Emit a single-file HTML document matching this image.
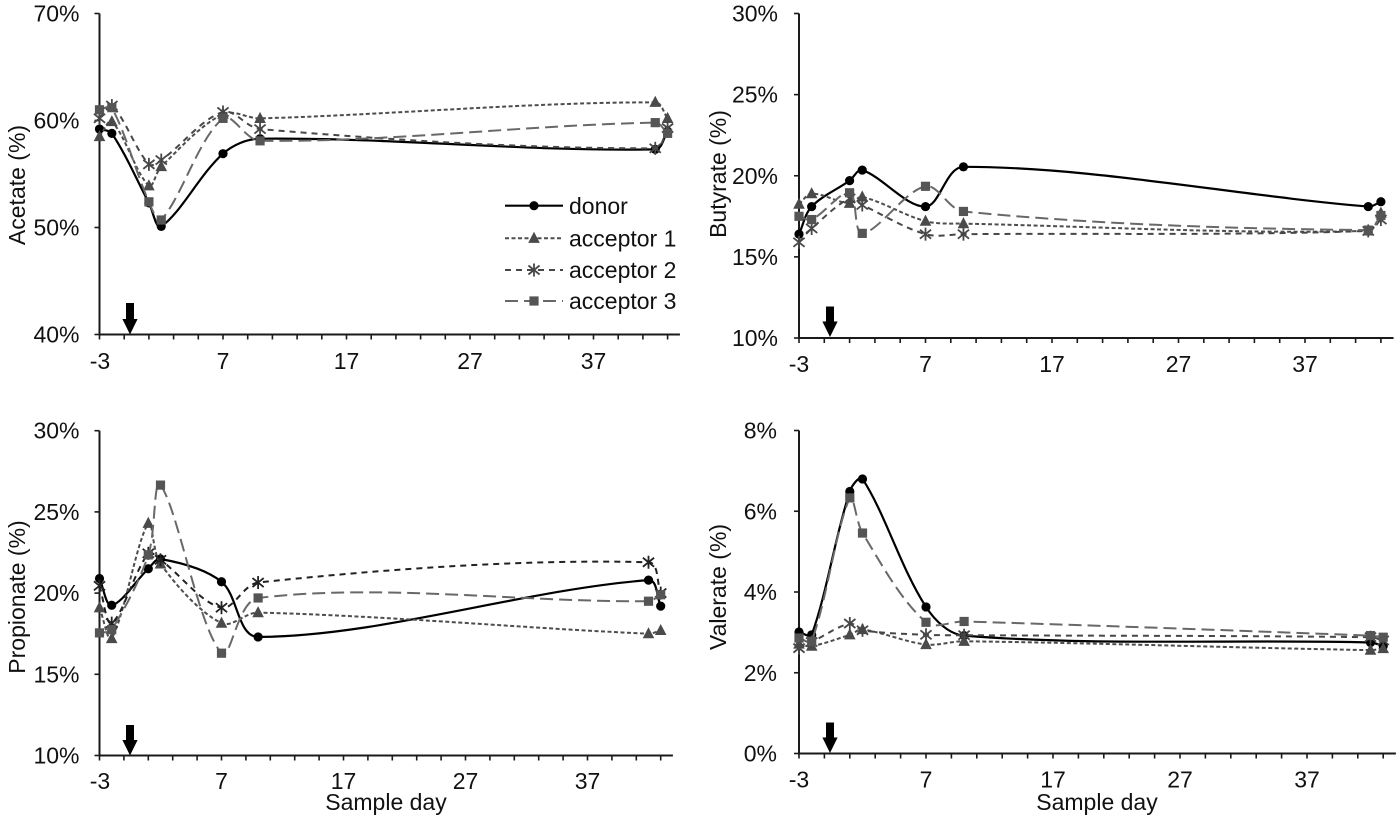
<!DOCTYPE html>
<html>
<head>
<meta charset="utf-8">
<style>
html,body{margin:0;padding:0;background:#fff;width:1400px;height:820px;overflow:hidden}
svg{display:block}
text{font-family:"Liberation Sans",Arial,sans-serif;fill:#111;font-size:23px}
</style>
</head>
<body>
<svg id="s" width="1400" height="820" viewBox="0 0 1400 820" xmlns="http://www.w3.org/2000/svg">
<rect width="1400" height="820" fill="#fff"/>
<g id="plots"></g>

<!-- Y tick labels -->
<g text-anchor="end">
  <text x="79.5" y="21.5">70%</text>
  <text x="79.5" y="128.5">60%</text>
  <text x="79.5" y="235.5">50%</text>
  <text x="79.5" y="342.5">40%</text>

  <text x="778" y="21.5">30%</text>
  <text x="778" y="102.6">25%</text>
  <text x="778" y="183.8">20%</text>
  <text x="778" y="264.9">15%</text>
  <text x="778" y="346">10%</text>

  <text x="79.5" y="438.7">30%</text>
  <text x="79.5" y="519.9">25%</text>
  <text x="79.5" y="601.1">20%</text>
  <text x="79.5" y="682.3">15%</text>
  <text x="79.5" y="763.5">10%</text>

  <text x="777" y="438.5">8%</text>
  <text x="777" y="519.3">6%</text>
  <text x="777" y="600">4%</text>
  <text x="777" y="680.8">2%</text>
  <text x="777" y="761.5">0%</text>
</g>

<!-- X tick labels -->
<g text-anchor="middle">
  <text x="100" y="369">-3</text>
  <text x="223" y="369">7</text>
  <text x="346.5" y="369">17</text>
  <text x="470" y="369">27</text>
  <text x="593.5" y="369">37</text>

  <text x="799" y="372">-3</text>
  <text x="925.5" y="372">7</text>
  <text x="1052" y="372">17</text>
  <text x="1178.5" y="372">27</text>
  <text x="1305" y="372">37</text>

  <text x="100" y="789">-3</text>
  <text x="221.5" y="789">7</text>
  <text x="343.5" y="789">17</text>
  <text x="465.5" y="789">27</text>
  <text x="587.5" y="789">37</text>

  <text x="799" y="787.5">-3</text>
  <text x="926" y="787.5">7</text>
  <text x="1053" y="787.5">17</text>
  <text x="1180" y="787.5">27</text>
  <text x="1307" y="787.5">37</text>

  <text x="386" y="810">Sample day</text>
  <text x="1097" y="810">Sample day</text>

  <text transform="translate(25,185) rotate(-90)">Acetate (%)</text>
  <text transform="translate(726,174) rotate(-90)">Butyrate (%)</text>
  <text transform="translate(25,597) rotate(-90)">Propionate (%)</text>
  <text transform="translate(726,587) rotate(-90)">Valerate (%)</text>
</g>

<!-- Legend text -->
<g>
  <text x="569" y="214">donor</text>
  <text x="569" y="246.5">acceptor 1</text>
  <text x="569" y="278">acceptor 2</text>
  <text x="569" y="309">acceptor 3</text>
</g>
<g id="legend"></g>
<g id="arrows"></g>
</svg>
<script>
(function(){
var NS="http://www.w3.org/2000/svg";
var plots=document.getElementById("plots");
var legend=document.getElementById("legend");
var arrows=document.getElementById("arrows");
function el(tag,attrs,parent){var e=document.createElementNS(NS,tag);for(var k in attrs)e.setAttribute(k,attrs[k]);(parent||plots).appendChild(e);return e;}
var days=[-3,-2,1,2,7,10,42,43];
var panels=[
 {x0:99.5,k:12.35,yb:334.5,vmin:40,s:10.7,ticks:[40,50,60,70],
  data:[[59.2,58.8,52.3,50.1,56.9,58.3,57.3,59.0],
        [58.5,59.9,53.9,55.7,60.6,60.2,61.7,60.2],
        [60.2,61.4,55.9,56.3,60.8,59.2,57.4,59.3],
        [61.0,61.2,52.4,50.7,60.2,58.1,59.8,58.8]],
  arrow:[130,303,334.5]},
 {x0:799,k:12.65,yb:338,vmin:10,s:16.225,ticks:[10,15,20,25,30],
  data:[[16.4,18.1,19.7,20.35,18.1,20.55,18.1,18.4],
        [18.25,18.9,18.3,18.7,17.2,17.05,16.6,17.7],
        [15.9,16.75,18.6,18.2,16.4,16.4,16.6,17.3],
        [17.5,17.3,18.95,16.45,19.35,17.8,16.65,17.55]],
  arrow:[830,306.5,337]},
 {x0:99.5,k:12.2,yb:755.5,vmin:10,s:16.24,ticks:[10,15,20,25,30],
  data:[[20.9,19.25,21.5,22.1,20.7,17.3,20.8,19.2],
        [19.1,17.2,24.3,21.8,18.15,18.8,17.5,17.7],
        [20.45,18.15,22.45,22.05,19.1,20.65,21.9,20.0],
        [17.55,17.75,22.35,26.65,16.3,19.7,19.5,19.9]],
  arrow:[130,725,755.5],a2dark:true},
 {x0:799,k:12.7,yb:753.5,vmin:0,s:40.375,ticks:[0,2,4,6,8],
  data:[[3.01,2.94,6.49,6.8,3.63,2.92,2.75,2.66],
        [2.71,2.66,2.94,3.07,2.7,2.78,2.56,2.6],
        [2.61,2.76,3.22,3.05,2.94,2.93,2.88,2.8],
        [2.86,2.78,6.33,5.46,3.25,3.27,2.92,2.88]],
  arrow:[830,722.5,753]}
];
var st=[
 {c:"#000",w:2.2,da:"",m:"circle"},
 {c:"#4d4d4d",w:2,da:"4 2.5",m:"tri"},
 {c:"#474747",w:2,da:"6 5",m:"ast"},
 {c:"#686868",w:2,da:"13 6",m:"sq"}
];
function dist(a,b){return Math.hypot(a[0]-b[0],a[1]-b[1]);}
function f(v){return v.toFixed(2);}
function path(pts){
 var n=pts.length,d="M"+f(pts[0][0])+","+f(pts[0][1]);
 for(var i=0;i<n-1;i++){
  var p0=pts[Math.max(i-1,0)],p1=pts[i],p2=pts[i+1],p3=pts[Math.min(i+2,n-1)];
  var d1=dist(p1,p2);
  var a=dist(p0,p1)+d1,b=d1+dist(p2,p3);
  var c1=[p1[0]+(p2[0]-p0[0])/a*d1/3,p1[1]+(p2[1]-p0[1])/a*d1/3];
  var c2=[p2[0]-(p3[0]-p1[0])/b*d1/3,p2[1]-(p3[1]-p1[1])/b*d1/3];
  d+=" C"+f(c1[0])+","+f(c1[1])+" "+f(c2[0])+","+f(c2[1])+" "+f(p2[0])+","+f(p2[1]);
 }
 return d;
}
function marker(type,x,y,col,parent){
 if(type==="circle"){el("circle",{cx:x,cy:y,r:4.6,fill:"#000"},parent);}
 else if(type==="tri"){el("polygon",{points:(x)+","+(y-6.5)+" "+(x-5.8)+","+(y+4.6)+" "+(x+5.8)+","+(y+4.6),fill:"#4a4a4a"},parent);}
 else if(type==="sq"){el("rect",{x:x-4.6,y:y-4.6,width:9.2,height:9.2,fill:"#555"},parent);}
 else if(type==="ast"){
  var g=el("g",{stroke:col,"stroke-width":1.8,fill:"none"},parent);
  el("line",{x1:x,y1:y-6.5,x2:x,y2:y+6.5},g);
  el("line",{x1:x-5.6,y1:y-4.5,x2:x+5.6,y2:y+4.5},g);
  el("line",{x1:x-5.6,y1:y+4.5,x2:x+5.6,y2:y-4.5},g);
 }
}
panels.forEach(function(p){
 var X=function(d){return p.x0+(d+3)*p.k;};
 var Y=function(v){return p.yb-(v-p.vmin)*p.s;};
 var ytop=Y(p.ticks[p.ticks.length-1]);
 // axes
 el("line",{x1:p.x0,y1:ytop,x2:p.x0,y2:p.yb,stroke:"#1a1a1a","stroke-width":2});
 el("line",{x1:p.x0-1,y1:p.yb,x2:X(44),y2:p.yb,stroke:"#1a1a1a","stroke-width":2});
 p.ticks.forEach(function(t){el("line",{x1:p.x0-5,y1:Y(t),x2:p.x0,y2:Y(t),stroke:"#1a1a1a","stroke-width":1.6});});
 for(var d=-3;d<=43;d+=2){el("line",{x1:X(d),y1:p.yb,x2:X(d),y2:p.yb+5,stroke:"#1a1a1a","stroke-width":1.6});}
 // series
 p.data.forEach(function(vals,si){
  var s=st[si];
  var col=s.c;
  if(si===2&&p.a2dark)col="#222";
  var pts=vals.map(function(v,i){return [X(days[i]),Y(v)];});
  var attrs={d:path(pts),fill:"none",stroke:col,"stroke-width":s.w,"stroke-linejoin":"round"};
  if(s.da)attrs["stroke-dasharray"]=s.da;
  el("path",attrs);
  pts.forEach(function(q){marker(s.m,q[0],q[1],col);});
 });
 // arrow
 var ax=p.arrow[0],at=p.arrow[1],tip=p.arrow[2],hs=tip-15.5;
 el("polygon",{points:(ax-4)+","+at+" "+(ax+4)+","+at+" "+(ax+4)+","+hs+" "+(ax+7.6)+","+hs+" "+ax+","+tip+" "+(ax-7.6)+","+hs+" "+(ax-4)+","+hs,fill:"#000"},arrows);
});
// legend
var rows=[205.7,238.3,270,301];
rows.forEach(function(y,i){
 var s=st[i];
 var attrs={x1:505,y1:y,x2:563,y2:y,stroke:s.c,"stroke-width":s.w};
 if(s.da)attrs["stroke-dasharray"]=s.da;
 el("line",attrs,legend);
 marker(s.m,534,y,s.c,legend);
});
})();
</script>
</body>
</html>
